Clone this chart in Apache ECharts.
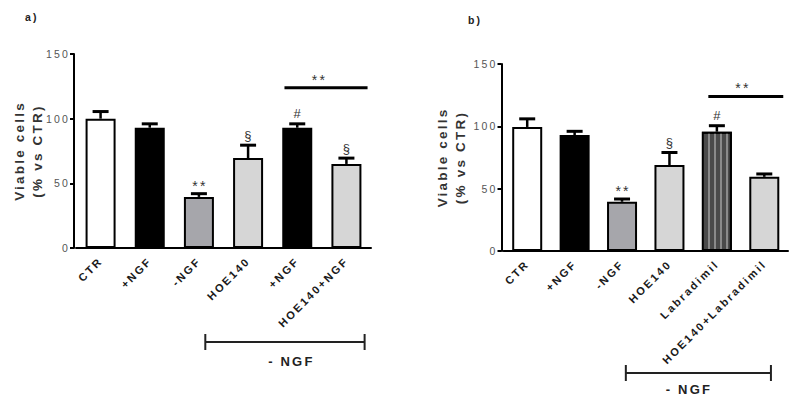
<!DOCTYPE html>
<html>
<head>
<meta charset="utf-8">
<script src="https://cdn.jsdelivr.net/npm/echarts@6/dist/echarts.min.js"></script>
<style>
  html, body { margin: 0; padding: 0; background: #fff; }
  #chart { width: 794px; height: 401px; }
  #chart text { letter-spacing: 2.2px; }
</style>
</head>
<body>
<div id="chart"></div>
<script>
// ---- data ----
const catsA = ['CTR', '+NGF', '-NGF', 'HOE140', '+NGF', 'HOE140+NGF'];
const meanA = [100, 93, 39.5, 69.5, 93, 65];
const semA  = [5.5, 3, 2.5, 10, 3, 4.5];
const markA = ['', '', '**', '§', '#', '§'];

const catsB = ['CTR', '+NGF', '-NGF', 'HOE140', 'Labradimil', 'HOE140+Labradimil'];
const meanB = [99.5, 93, 39.5, 69, 95.7, 59.5];
const semB  = [6.5, 3, 2.2, 10, 4.8, 2.3];
const markB = ['', '', '**', '§', '#', ''];

const yTicks = [0, 50, 100, 150];
const sigA = { from: 4, to: 5, value: 124, text: '**' };
const sigB = { from: 4, to: 5, value: 124, text: '**' };
const groupA = { from: 2, to: 5, text: '- NGF' };
const groupB = { from: 2, to: 5, text: '- NGF' };

// ---- styles ----
const FONT = 'Liberation Sans, Arial, sans-serif';
const fillA = ['#ffffff', '#000000', '#a6a6ab', '#d6d6d6', '#000000', '#d6d6d6'];
const fillB = ['#ffffff', '#000000', '#a6a6ab', '#d6d6d6', '#4a4a4a', '#d6d6d6'];
const striped = [false, false, false, false, true, false];

function barData(means, fills, stripes) {
  return means.map((v, i) => ({
    value: v,
    itemStyle: Object.assign({ color: fills[i], borderColor: '#000', borderWidth: 2 },
      stripes && stripes[i] ? { decal: { symbol: 'rect', symbolSize: 1, color: '#8a8a8a',
        dashArrayX: [2, 4], dashArrayY: [10, 0], rotation: 0 } } : {})
  }));
}

function errRender(params, api) {
  const i = api.value(0), m = api.value(1), e = api.value(2);
  const p0 = api.coord([i, m]);
  const p1 = api.coord([i, m + e]);
  return { type: 'group', children: [
    { type: 'line', shape: { x1: p0[0], y1: p0[1], x2: p1[0], y2: p1[1] }, style: { stroke: '#000', lineWidth: 2.5 } },
    { type: 'line', shape: { x1: p1[0] - 8, y1: p1[1], x2: p1[0] + 8, y2: p1[1] }, style: { stroke: '#000', lineWidth: 3 } }
  ]};
}

function markRender(params, api) {
  const i = api.value(0), top = api.value(1);
  const txt = api.value(2);
  const p = api.coord([i, top]);
  const star = txt === '**';
  return { type: 'text', x: p[0] + 1, y: p[1] - (star ? 8 : 10),
    style: { text: txt, fill: '#333', font: (star ? '14px ' : '13px ') + FONT, align: 'center', verticalAlign: 'middle' } };
}

function makeSigRender(sig, x0f, x1f, textf) {
  return function (params, api) {
    const bw = api.size([1, 0])[0];
    const pa = api.coord([sig.from, sig.value]);
    const pb = api.coord([sig.to, sig.value]);
    return { type: 'group', children: [
      { type: 'line', shape: { x1: pa[0] + x0f * bw, y1: pa[1], x2: pb[0] + x1f * bw, y2: pb[1] }, style: { stroke: '#000', lineWidth: 3 } },
      { type: 'text', x: pa[0] + textf * bw, y: pa[1] - 8,
        style: { text: sig.text, fill: '#333', font: '14px ' + FONT, align: 'center', verticalAlign: 'middle' } }
    ]};
  };
}

function makeGroupRender(g, x0f, x1f, textf, dy, tdy) {
  return function (params, api) {
    const bw = api.size([1, 0])[0];
    const pa = api.coord([g.from, 0]);
    const pb = api.coord([g.to, 0]);
    const xa = pa[0] + x0f * bw, xb = pb[0] + x1f * bw, y = pa[1] + dy;
    return { type: 'group', children: [
      { type: 'line', shape: { x1: xa, y1: y, x2: xb, y2: y }, style: { stroke: '#222', lineWidth: 2 } },
      { type: 'line', shape: { x1: xa, y1: y - 8, x2: xa, y2: y + 8 }, style: { stroke: '#222', lineWidth: 2 } },
      { type: 'line', shape: { x1: xb, y1: y - 8, x2: xb, y2: y + 8 }, style: { stroke: '#222', lineWidth: 2 } },
      { type: 'text', x: pa[0] + textf * bw, y: pa[1] + tdy,
        style: { text: g.text, fill: '#222', font: 'bold 13px ' + FONT, align: 'center', verticalAlign: 'middle' } }
    ]};
  };
}

function xAxisFor(cats, gi) {
  return {
    type: 'category', gridIndex: gi, data: cats,
    axisLine: { lineStyle: { color: '#000', width: 2 } },
    axisTick: { alignWithLabel: true, length: 4, lineStyle: { color: '#000', width: 2 } },
    axisLabel: { interval: 0, rotate: 45, margin: 11, color: '#1a1a1a', fontSize: 11, fontWeight: 'bold', fontFamily: FONT }
  };
}
function yAxisFor(gi, gap) {
  return {
    type: 'value', gridIndex: gi, min: yTicks[0], max: yTicks[yTicks.length - 1], interval: 50, offset: 2,
    name: 'Viable cells\n(% vs CTR)', nameLocation: 'middle', nameGap: gap, nameRotate: 90,
    nameTextStyle: { color: '#333', fontSize: 13.5, fontWeight: 'bold', fontFamily: FONT, lineHeight: 18 },
    axisLine: { show: true, lineStyle: { color: '#000', width: 2 } },
    axisTick: { show: true, length: 4, lineStyle: { color: '#000', width: 2 } },
    axisLabel: { color: '#555', fontSize: 10.5, fontFamily: FONT, margin: 4 },
    splitLine: { show: false }
  };
}

const chart = echarts.init(document.getElementById('chart'), null, { renderer: 'svg' });
chart.setOption({
  animation: false,
  backgroundColor: '#fff',
  title: [
    { text: 'a)', left: 20, top: 6, textStyle: { fontSize: 10.5, fontWeight: 'bold', color: '#222', fontFamily: FONT } },
    { text: 'b)', left: 463, top: 9, textStyle: { fontSize: 10.5, fontWeight: 'bold', color: '#222', fontFamily: FONT } }
  ],
  grid: [
    { left: 76, width: 295, top: 54, height: 194 },
    { left: 503.5, width: 284.5, top: 64, height: 187 }
  ],
  xAxis: [xAxisFor(catsA, 0), xAxisFor(catsB, 1)],
  yAxis: [yAxisFor(0, 28), yAxisFor(1, 32)],
  series: [
    { type: 'bar', xAxisIndex: 0, yAxisIndex: 0, barWidth: 30, data: barData(meanA, fillA, null) },
    { type: 'bar', xAxisIndex: 1, yAxisIndex: 1, barWidth: 30, data: barData(meanB, fillB, striped) },
    { type: 'custom', xAxisIndex: 0, yAxisIndex: 0, renderItem: errRender, data: meanA.map((v, i) => [i, v, semA[i]]), z: 3 },
    { type: 'custom', xAxisIndex: 1, yAxisIndex: 1, renderItem: errRender, data: meanB.map((v, i) => [i, v, semB[i]]), z: 3 },
    { type: 'custom', xAxisIndex: 0, yAxisIndex: 0, renderItem: markRender, data: meanA.map((v, i) => [i, v + semA[i], markA[i]]).filter(d => d[2]), z: 4 },
    { type: 'custom', xAxisIndex: 1, yAxisIndex: 1, renderItem: markRender, data: meanB.map((v, i) => [i, v + semB[i], markB[i]]).filter(d => d[2]), z: 4 },
    { type: 'custom', xAxisIndex: 0, yAxisIndex: 0, renderItem: makeSigRender(sigA, -0.26, 0.43, 0.45), data: [[sigA.from, sigA.value]], z: 4 },
    { type: 'custom', xAxisIndex: 1, yAxisIndex: 1, renderItem: makeSigRender(sigB, -0.18, 0.4, 0.55), data: [[sigB.from, sigB.value]], z: 4 },
    { type: 'custom', xAxisIndex: 0, yAxisIndex: 0, renderItem: makeGroupRender(groupA, 0.13, 0.37, 1.88, 94, 113), data: [[groupA.from, 0]], clip: false, z: 4 },
    { type: 'custom', xAxisIndex: 1, yAxisIndex: 1, renderItem: makeGroupRender(groupB, 0.08, 0.14, 1.41, 122, 138), data: [[groupB.from, 0]], clip: false, z: 4 }
  ]
});
</script>
</body>
</html>
